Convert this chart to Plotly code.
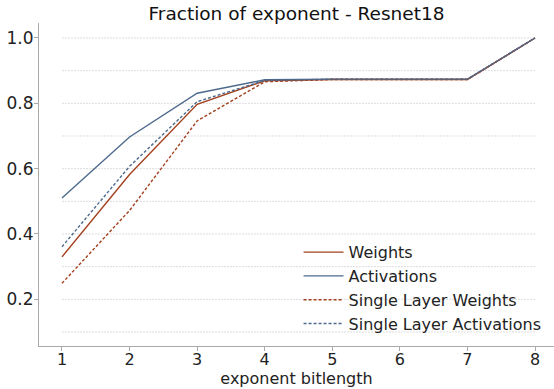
import plotly.graph_objects as go

x_bits = [1, 2, 3, 4, 5, 6, 7, 8]
weights = [0.330, 0.582, 0.797, 0.869, 0.873, 0.873, 0.873, 1.0]
activations = [0.510, 0.697, 0.831, 0.872, 0.874, 0.874, 0.874, 1.0]
single_weights = [0.249, 0.472, 0.746, 0.866, 0.873, 0.873, 0.873, 1.0]
single_activations = [0.361, 0.607, 0.805, 0.870, 0.874, 0.874, 0.874, 1.0]
y_ticks = [0.2, 0.4, 0.6, 0.8, 1.0]
y_tick_labels = ["0.2", "0.4", "0.6", "0.8", "1.0"]
grid_levels = [0.1, 0.2, 0.3, 0.4, 0.5, 0.6, 0.7, 0.8, 0.9, 1.0]

RED = "#a3401d"
BLUE = "#4d6a8c"
FONT = "DejaVu Sans"

fig = go.Figure()
series = [
    ("Weights", weights, RED, "solid"),
    ("Activations", activations, BLUE, "solid"),
    ("Single Layer Weights", single_weights, RED, "3px,2px"),
    ("Single Layer Activations", single_activations, BLUE, "3px,2px"),
]
for name, ys, col, dash in series:
    fig.add_trace(go.Scatter(x=x_bits, y=ys, mode="lines", name=name,
                             legendgroup=name,
                             line=dict(color=col, width=1.4, dash=dash)))

for g in grid_levels:
    fig.add_shape(type="line", xref="x", yref="y", x0=x_bits[0], x1=x_bits[-1],
                  y0=g, y1=g, layer="below",
                  line=dict(color="#dddddd", width=1, dash="2px,1px"))

fig.update_layout(
    width=554, height=389,
    margin=dict(l=39, r=0, t=23, b=43),
    paper_bgcolor="white", plot_bgcolor="white",
    font=dict(family=FONT, size=16, color="#222222"),
    title=dict(text="Fraction of exponent - Resnet18", x=0.5, xanchor="center",
               xref="paper",
               y=0.966, yanchor="middle", font=dict(size=18.5, color="#111111")),
    showlegend=True,
    legend=dict(x=0.504, y=0.343, xanchor="left", yanchor="top",
                bgcolor="rgba(0,0,0,0)", font=dict(size=16, color="#222222"),
                tracegroupgap=0, itemwidth=40),
)
fig.update_xaxes(range=[0.66, 8.281], tickvals=x_bits, ticktext=[str(v) for v in x_bits],
                 showgrid=False, zeroline=False, showline=True, linecolor="#aaaaaa",
                 linewidth=1, ticks="outside", ticklen=4, tickcolor="#aaaaaa",
                 automargin=False, ticklabelstandoff=-5,
                 title=dict(text="exponent bitlength", standoff=0, font=dict(size=16)),
                 tickfont=dict(size=16))
fig.update_yaxes(range=[0.0571, 1.0459], tickvals=y_ticks, ticktext=y_tick_labels,
                 showgrid=False, zeroline=False, showline=True, linecolor="#aaaaaa",
                 linewidth=1, ticks="outside", ticklen=4, tickcolor="#aaaaaa",
                 automargin=False, ticklabelstandoff=-3,
                 tickfont=dict(size=17))

fig.write_html("out.html", config={"displayModeBar": False},
               post_script="document.body.style.margin='0';document.body.style.overflow='hidden';")
